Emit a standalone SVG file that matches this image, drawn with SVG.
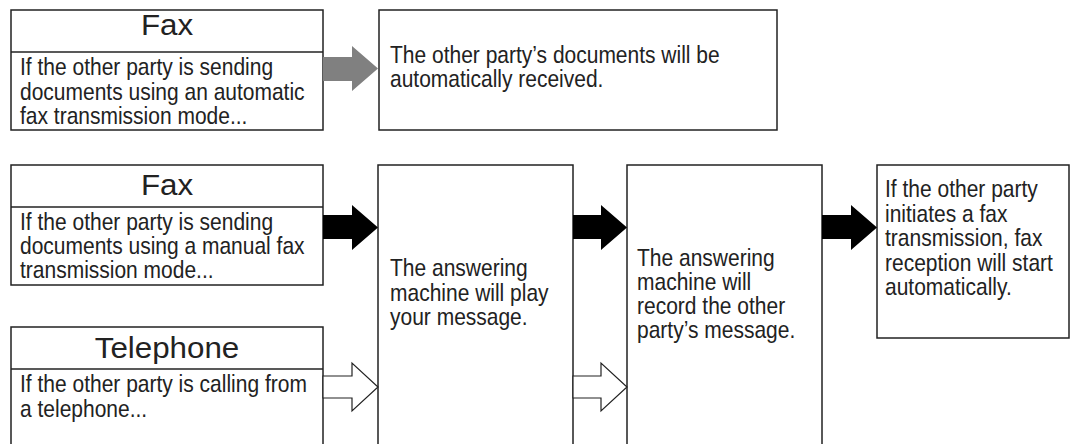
<svg xmlns="http://www.w3.org/2000/svg" width="1078" height="444" viewBox="0 0 1078 444">
<style>
.box{fill:#fff;stroke:#222;stroke-width:1.5}
.div{stroke:#222;stroke-width:1.5}
.t{font-family:"Liberation Sans",Arial,sans-serif;font-size:24px;fill:#222}
.h{font-family:"Liberation Sans",Arial,sans-serif;font-size:29px;fill:#222;text-anchor:middle}
.ag{fill:#808080}
.ab{fill:#000}
.aw{fill:#fff;stroke:#222;stroke-width:1.2}
</style>
<rect width="1078" height="444" fill="#fff"/>
<g id="fax-auto">
<rect class="box" x="11" y="10" width="312" height="120"/>
<line class="div" x1="11" y1="52" x2="323" y2="52"/>
<text class="h" transform="translate(167,35) scale(1.08 1)">Fax</text>
<text class="t" transform="translate(20,75) scale(0.875 1)">If the other party is sending</text>
<text class="t" transform="translate(20,99.5) scale(0.875 1)">documents using an automatic</text>
<text class="t" transform="translate(20,124) scale(0.875 1)">fax transmission mode...</text>
</g>
<g id="auto-received">
<rect class="box" x="379" y="10" width="398" height="120"/>
<text class="t" transform="translate(390,63) scale(0.875 1)">The other party’s documents will be</text>
<text class="t" transform="translate(390,87) scale(0.875 1)">automatically received.</text>
</g>
<g id="fax-manual">
<rect class="box" x="11" y="165" width="312" height="120"/>
<line class="div" x1="11" y1="207" x2="323" y2="207"/>
<text class="h" transform="translate(167,195) scale(1.08 1)">Fax</text>
<text class="t" transform="translate(20,230) scale(0.875 1)">If the other party is sending</text>
<text class="t" transform="translate(20,254) scale(0.875 1)">documents using a manual fax</text>
<text class="t" transform="translate(20,278) scale(0.875 1)">transmission mode...</text>
</g>
<g id="telephone">
<rect class="box" x="11" y="327" width="312" height="130"/>
<line class="div" x1="11" y1="369" x2="323" y2="369"/>
<text class="h" transform="translate(167,358) scale(1.08 1)">Telephone</text>
<text class="t" transform="translate(20,392) scale(0.875 1)">If the other party is calling from</text>
<text class="t" transform="translate(20,417) scale(0.875 1)">a telephone...</text>
</g>
<g id="play-message">
<rect class="box" x="378" y="165" width="195" height="292"/>
<text class="t" transform="translate(390,276) scale(0.875 1)">The answering</text>
<text class="t" transform="translate(390,301) scale(0.875 1)">machine will play</text>
<text class="t" transform="translate(390,325) scale(0.875 1)">your message.</text>
</g>
<g id="record-message">
<rect class="box" x="627" y="165" width="195" height="292"/>
<text class="t" transform="translate(637,266) scale(0.875 1)">The answering</text>
<text class="t" transform="translate(637,290) scale(0.875 1)">machine will</text>
<text class="t" transform="translate(637,314) scale(0.875 1)">record the other</text>
<text class="t" transform="translate(637,338) scale(0.875 1)">party’s message.</text>
</g>
<g id="fax-reception">
<rect class="box" x="877" y="165" width="192" height="173"/>
<text class="t" transform="translate(885,197) scale(0.875 1)">If the other party</text>
<text class="t" transform="translate(885,221.5) scale(0.875 1)">initiates a fax</text>
<text class="t" transform="translate(885,246) scale(0.875 1)">transmission, fax</text>
<text class="t" transform="translate(885,270.5) scale(0.875 1)">reception will start</text>
<text class="t" transform="translate(885,295) scale(0.875 1)">automatically.</text>
</g>
<g id="connectors">
<polygon class="ag" points="323,57 352,57 352,46 378,68.5 352,91 352,81 323,81"/>
<polygon class="ab" points="323,215 352,215 352,205 378,227.5 352,250 352,239 323,239"/>
<polygon class="aw" points="323,376 352,376 352,363 378,387 352,411 352,398 323,398"/>
<polygon class="ab" points="573,215 601,215 601,205 627,227.5 601,250 601,239 573,239"/>
<polygon class="aw" points="573,376 601,376 601,363 627,387 601,411 601,398 573,398"/>
<polygon class="ab" points="822,215 851,215 851,205 877,227.5 851,250 851,239 822,239"/>
</g>
</svg>
